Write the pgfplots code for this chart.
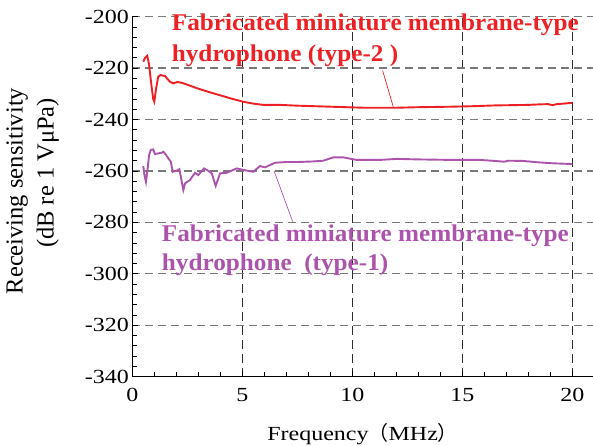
\documentclass[border=0pt]{standalone}
\usepackage{fontspec}
\setmainfont{Liberation Serif}[FakeStretch=1.2]
\newfontfamily\plainserif{Liberation Serif}
\newfontfamily\annofont{Liberation Serif}[FakeStretch=1.05]
\newfontfamily\cjk{Noto Sans CJK SC}
\usepackage{pgfplots}
\pgfplotsset{compat=1.18}

\definecolor{redline}{RGB}{237,32,36}
\definecolor{purpleline}{RGB}{172,84,172}
\definecolor{gridx}{RGB}{45,45,45}
\definecolor{gridy}{RGB}{120,120,120}

\begin{document}
\begin{tikzpicture}
\begin{axis}[
  name=ax,
  scale only axis,
  width=460.7pt, height=360pt,
  xmin=0, xmax=20.94,
  ymin=-340, ymax=-200,
  axis x line*=bottom, axis y line*=left,
  axis line style={black, line width=1.1pt},
  xtick={0,5,10,15,20},
  ytick={-340,-320,...,-200},
  minor x tick num=4,
  minor y tick num=4,
  tick align=inside,
  major tick length=6pt, minor tick length=5pt,
  tick style={black, line width=0.9pt},
  grid=major,
  major x grid style={gridx, line width=1.3pt, dash pattern=on 9pt off 5pt},
  major y grid style={gridy, line width=1.3pt, dash pattern=on 8pt off 5pt},
  /pgf/number format/assume math mode=true,
  ticklabel style={font=\fontsize{20pt}{24pt}\selectfont},
  xticklabel style={yshift=-8pt},
  xlabel={Frequency{\cjk （}MHz{\cjk ）}},
  xlabel style={font=\fontsize{20pt}{24pt}\selectfont, at={(axis description cs:0.5,0)}, anchor=base, yshift=-64pt},
  clip=false,
]
% type-2
\addplot[redline, line width=1.9pt] coordinates {
  (0.50,-217.5) (0.58,-216.0) (0.68,-215.2) (0.76,-218.5) (0.86,-226.0)
  (0.95,-232.0) (1.00,-233.1) (1.08,-228.0) (1.18,-223.3) (1.29,-222.7)
  (1.49,-223.1) (1.71,-225.3) (1.86,-225.9) (2.05,-225.4) (2.25,-225.7)
  (2.55,-226.6) (2.93,-227.8) (3.30,-228.8) (3.68,-229.8) (4.05,-230.7)
  (4.44,-231.7) (5.05,-233.1) (5.50,-233.8) (5.95,-234.3) (6.71,-234.3)
  (7.50,-234.6) (9.00,-235.0) (10.50,-235.4) (12.00,-235.4) (13.00,-235.2)
  (14.50,-235.0) (15.50,-234.8) (16.50,-234.5) (18.00,-234.3) (18.50,-234.1)
  (18.90,-234.0) (19.10,-234.4) (19.30,-234.0) (19.60,-233.8) (20.00,-233.5)
};
% type-1
\addplot[purpleline, line width=1.9pt] coordinates {
  (0.50,-258.1) (0.55,-261.5) (0.62,-264.2) (0.70,-259.0) (0.76,-254.0)
  (0.84,-251.8) (0.95,-251.6) (1.03,-253.4) (1.34,-252.9) (1.41,-252.5)
  (1.52,-253.6) (1.64,-255.1) (1.75,-256.4) (1.84,-260.3) (2.02,-259.9)
  (2.14,-259.3) (2.32,-267.4) (2.40,-264.8) (2.62,-263.5) (2.85,-260.7)
  (3.00,-261.6) (3.26,-259.0) (3.45,-259.9) (3.61,-260.9) (3.79,-265.8)
  (3.99,-260.9) (4.29,-260.7) (4.75,-259.0) (5.05,-259.6) (5.50,-260.3)
  (5.80,-258.1) (6.03,-258.6) (6.49,-256.8) (7.02,-256.5) (7.55,-256.5)
  (8.20,-256.3) (8.68,-256.0) (9.14,-254.7) (9.59,-254.7) (10.20,-255.7)
  (11.26,-255.7) (12.02,-255.3) (13.00,-255.5) (14.50,-255.7) (15.80,-255.7)
  (16.50,-256.1) (16.90,-256.4) (17.10,-256.0) (17.76,-256.1) (18.40,-256.6)
  (19.08,-257.0) (20.00,-257.3)
};
% leader lines
\addplot[redline, line width=0.7pt] coordinates {(11.86,-235.0) (11.38,-221.0)};
\addplot[purpleline, line width=0.7pt] coordinates {(6.44,-259.9) (7.29,-279.7)};

\node[anchor=base west, inner sep=0, text=redline, font=\annofont\fontsize{24pt}{28pt}\selectfont\bfseries]
  at (axis cs:1.79,-205.2) {Fabricated miniature membrane-type};
\node[anchor=base west, inner sep=0, text=redline, font=\annofont\fontsize{24pt}{28pt}\selectfont\bfseries]
  at (axis cs:1.79,-217.5) {hydrophone (type-2 )};
\node[anchor=base west, inner sep=0, text=purpleline, font=\annofont\fontsize{24pt}{28pt}\selectfont\bfseries]
  at (axis cs:1.34,-287.5) {Fabricated miniature membrane-type};
\node[anchor=base west, inner sep=0, text=purpleline, font=\annofont\fontsize{24pt}{28pt}\selectfont\bfseries]
  at (axis cs:1.34,-298.8) {hydrophone \ (type-1)};

\node[rotate=90, anchor=base, inner sep=0, font=\plainserif\fontsize{24.5pt}{29pt}\selectfont]
  at (axis description cs:-0.2383,0.5158) {Receiving sensitivity};
\node[rotate=90, anchor=base, inner sep=0, font=\plainserif\fontsize{24.5pt}{29pt}\selectfont]
  at (axis description cs:-0.171,0.5658) {(dB re 1 VμPa)};
\end{axis}
\pgfresetboundingbox
\path ([xshift=-132.3pt,yshift=-69.3pt]ax.south west) rectangle ([yshift=16.7pt]ax.north east);
\end{tikzpicture}
\end{document}
